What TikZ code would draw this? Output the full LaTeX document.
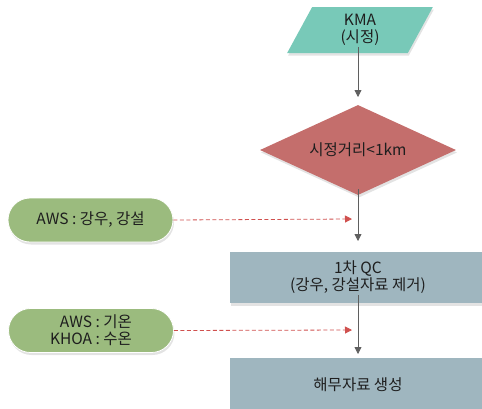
\documentclass[tikz,border=0pt]{standalone}
\usepackage{fontspec}
\setmainfont{Noto Sans CJK KR}
\usetikzlibrary{shapes.geometric,shadows,arrows.meta}
\definecolor{tealc}{HTML}{78C9B8}
\definecolor{redc}{HTML}{C46E6C}
\definecolor{greenc}{HTML}{9BBB7E}
\definecolor{bluec}{HTML}{9FB6BF}
\definecolor{dashc}{HTML}{D0504E}
\definecolor{arrc}{HTML}{5F5F5F}
\definecolor{txtc}{HTML}{1E1E1E}
\tikzset{
  shd/.style={drop shadow={opacity=0.22,shadow xshift=1pt,shadow yshift=-2.5pt,fill=gray}},
  base/.style={font=\fontsize{15.5}{17}\selectfont, text=txtc, align=center, inner sep=0pt, shd},
  para/.style={base, trapezium, trapezium left angle=72, trapezium right angle=108, trapezium stretches=true, minimum width=146pt, minimum height=46pt, fill=tealc},
  dia/.style={base, diamond, shape aspect=2.2, minimum width=196pt, minimum height=90pt, fill=redc},
  pill/.style={base, rectangle, rounded corners=22pt, minimum width=165pt, minimum height=44pt, fill=greenc, draw=white, line width=0.8pt},
  procbox/.style={base, rectangle, minimum width=256pt, fill=bluec},
  flow/.style={draw=arrc, line width=0.8pt, -{Triangle[length=7pt,width=7pt]}},
  dflow/.style={draw=dashc, line width=0.8pt, dash pattern=on 4pt off 2.5pt, -{Triangle[length=7pt,width=7pt]}}
}
\begin{document}
\begin{tikzpicture}[x=1pt,y=-1pt]
\useasboundingbox (0,0) rectangle (482,408);
\clip (0,0) rectangle (482,408);
\node[para] (kma) at (360,30) {KMA\\(시정)};
\node[dia] (vis) at (358,150) {시정거리<1km};
\node[pill] (aws1) at (90.5,220) {AWS : 강우, 강설};
\node[procbox, minimum height=51pt] (qc) at (358,277.5) {1차 QC\\(강우, 강설자료 제거)};
\node[pill, align=right] (aws2) at (91,330.5) {AWS : 기온\\KHOA : 수온};
\node[procbox, minimum height=54pt] (fog) at (358,385) {해무자료 생성};
\coordinate (t1) at (358,97);
\coordinate (t2) at (358,241);
\coordinate (t3) at (358,354);
\coordinate (d1) at (352,219);
\coordinate (d2) at (352,330);
\draw[flow] ([yshift=6pt]kma.south -| t1) -- (t1);
\draw[flow] ([yshift=6pt]vis.south) -- (t2);
\draw[flow] ([yshift=8pt]qc.south) -- (t3);
\draw[dflow] (aws1.east) -- (d1);
\draw[dflow] (aws2.east) -- (d2);
\end{tikzpicture}
\end{document}
